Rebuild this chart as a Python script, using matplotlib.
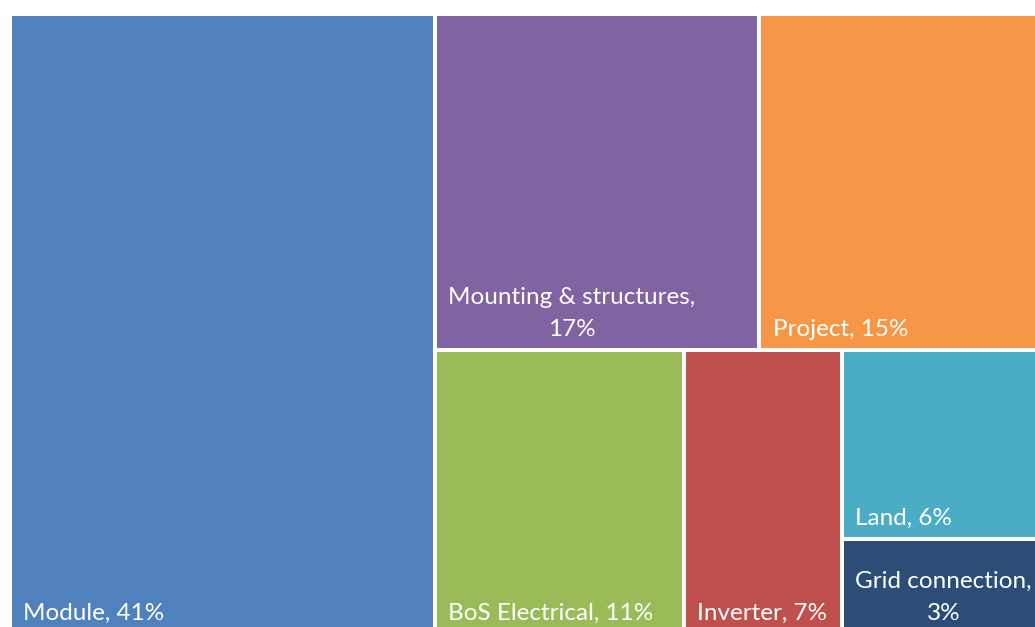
import matplotlib.pyplot as plt
from matplotlib.patches import Rectangle

# cost breakdown (share of total, %)
labels = ["Module", "Mounting & structures,\n", "Project", "BoS Electrical", "Inverter",
          "Land", "Grid connection,\n"]
values = [41, 17, 15, 11, 7, 6, 3]
colors = ["#4F81BD", "#8064A2", "#F79646", "#9BBB59", "#C0504D", "#4BACC6", "#2C4D75"]

# layout: first item is a full-height column, the rest is split into two rows,
# the last cell of the bottom row is a vertical stack
rows = [[1, 2], [3, 4, [5, 6]]]

plt.rcParams['font.family'] = ['Lato', 'DejaVu Sans']

fig = plt.figure(figsize=(10.35, 6.27), dpi=100)
# treemap is cropped at the right and bottom edges in the reference
ax = fig.add_axes([10 / 1035, 1 - 634 / 627, 1036 / 1035, 620 / 627])
ax.set_xlim(0, 1)
ax.set_ylim(0, 1)
ax.axis("off")

total = sum(values)
rects = {}
w0 = values[0] / total
rects[0] = (0, 0, w0, 1)
rest = total - values[0]


def val(item):
    if isinstance(item, list):
        return sum(values[i] for i in item)
    return values[item]


y_top = 1.0
for row in rows:
    row_sum = sum(val(it) for it in row)
    h = row_sum / rest
    y = y_top - h
    x = w0
    for it in row:
        w = val(it) / row_sum * (1 - w0)
        if isinstance(it, list):
            yy = y + h
            for i in it:
                hh = values[i] / val(it) * h
                rects[i] = (x, yy - hh, w, hh)
                yy -= hh
        else:
            rects[it] = (x, y, w, h)
        x += w
    y_top = y

for i, (x, y, w, h) in rects.items():
    ax.add_patch(Rectangle((x, y), w, h, facecolor=colors[i], edgecolor="white", linewidth=2.9))
    lab = labels[i]
    if lab.endswith("\n"):
        text = f"{lab}{values[i]}%"
    else:
        text = f"{lab}, {values[i]}%"
    ax.annotate(text, (x, y), xytext=(9.5, 7.5), textcoords="offset points",
                ha="left", va="bottom", multialignment="center", linespacing=1.65,
                color="white", fontsize=17.5)

fig.savefig("out.png", dpi=100)
